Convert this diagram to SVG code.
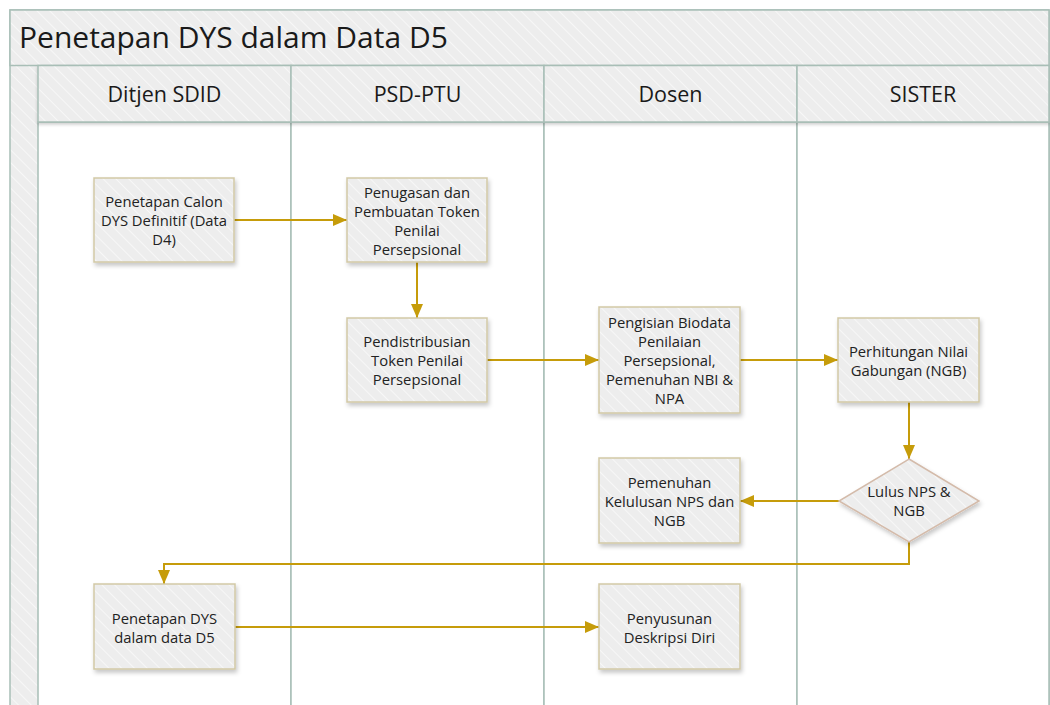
<svg xmlns="http://www.w3.org/2000/svg" width="1050" height="705" viewBox="0 0 1050 705">
<style>
.band{fill:url(#hatch);stroke:#A8BEB6;stroke-width:1.5}
.lane{fill:#FFFFFF;stroke:#A8BEB6;stroke-width:1.5}
.box{fill:url(#hatch);stroke:#D2C9A6;stroke-width:1.5;filter:url(#sh)}
.dia{fill:url(#hatch);stroke:#D4BBAA;stroke-width:1.5;filter:url(#sh)}
.t{font-family:"Open Sans","Noto Sans","DejaVu Sans",sans-serif;font-size:14.8px;fill:#222;text-anchor:middle}
.h{font-family:"Open Sans","Noto Sans","DejaVu Sans",sans-serif;font-size:21.5px;fill:#1a1a1a;text-anchor:middle}
.title{font-family:"Open Sans","Noto Sans","DejaVu Sans",sans-serif;font-size:30px;fill:#1a1a1a}
.c{fill:none;stroke:#C69C0A;stroke-width:2}
</style>
<defs>
<pattern id="hatch" patternUnits="userSpaceOnUse" width="9" height="9" patternTransform="rotate(-45)">
<rect width="9" height="9" fill="#EDEDED"/>
<line x1="0" y1="0" x2="0" y2="9" stroke="#F7F7F7" stroke-width="2"/>
</pattern>
<filter id="sh" x="-10%" y="-10%" width="125%" height="130%">
<feDropShadow dx="1.5" dy="3" stdDeviation="2" flood-color="#000" flood-opacity="0.22"/>
</filter>
<filter id="hsh" x="-5%" y="-10%" width="110%" height="140%">
<feDropShadow dx="0" dy="2" stdDeviation="1.5" flood-color="#000" flood-opacity="0.18"/>
</filter>
<marker id="ar" viewBox="0 0 14 12" refX="14" refY="6" markerWidth="14" markerHeight="12" markerUnits="userSpaceOnUse" orient="auto">
<path d="M0,0 L14,6 L0,12 Z" fill="#C69C0A"/>
</marker>
</defs>

<g id="pool">
<rect x="10" y="10" width="1039" height="720" class="band"/>
<rect x="10" y="10" width="1039" height="55.5" class="band"/>
<text x="19" y="48" class="title">Penetapan DYS dalam Data D5</text>
</g>

<g id="lanes">
<rect x="38" y="122" width="253" height="620" class="lane"/>
<rect x="291" y="122" width="253" height="620" class="lane"/>
<rect x="544" y="122" width="253" height="620" class="lane"/>
<rect x="797" y="122" width="252" height="620" class="lane"/>
<g filter="url(#hsh)">
<rect x="38" y="65.5" width="253" height="56.5" class="band"/>
<rect x="291" y="65.5" width="253" height="56.5" class="band"/>
<rect x="544" y="65.5" width="253" height="56.5" class="band"/>
<rect x="797" y="65.5" width="252" height="56.5" class="band"/>
</g>
<text x="164.5" y="102" class="h">Ditjen SDID</text>
<text x="417.5" y="102" class="h">PSD-PTU</text>
<text x="670.5" y="102" class="h">Dosen</text>
<text x="923" y="102" class="h">SISTER</text>
</g>

<g id="connectors">
<path class="c" d="M234,220 H347" marker-end="url(#ar)"/>
<path class="c" d="M417,262 V318" marker-end="url(#ar)"/>
<path class="c" d="M487,360 H599" marker-end="url(#ar)"/>
<path class="c" d="M740,360 H838" marker-end="url(#ar)"/>
<path class="c" d="M909,402 V459" marker-end="url(#ar)"/>
<path class="c" d="M839,501 H740" marker-end="url(#ar)"/>
<path class="c" d="M909,542 V564 H164 V584" marker-end="url(#ar)"/>
<path class="c" d="M235,627 H599" marker-end="url(#ar)"/>
</g>

<g id="n1">
<rect x="94" y="178" width="140" height="84" class="box"/>
<text class="t" x="164" y="207">Penetapan Calon</text>
<text class="t" x="164" y="226">DYS Definitif (Data</text>
<text class="t" x="164" y="245">D4)</text>
</g>
<g id="n2">
<rect x="347" y="178" width="140" height="84" class="box"/>
<text class="t" x="417" y="198">Penugasan dan</text>
<text class="t" x="417" y="217">Pembuatan Token</text>
<text class="t" x="417" y="236">Penilai</text>
<text class="t" x="417" y="255">Persepsional</text>
</g>
<g id="n3">
<rect x="347" y="318" width="140" height="84" class="box"/>
<text class="t" x="417" y="347">Pendistribusian</text>
<text class="t" x="417" y="366">Token Penilai</text>
<text class="t" x="417" y="385">Persepsional</text>
</g>
<g id="n4">
<rect x="599" y="307" width="141" height="106" class="box"/>
<text class="t" x="669.5" y="328">Pengisian Biodata</text>
<text class="t" x="669.5" y="347">Penilaian</text>
<text class="t" x="669.5" y="366">Persepsional,</text>
<text class="t" x="669.5" y="385">Pemenuhan NBI &amp;</text>
<text class="t" x="669.5" y="404">NPA</text>
</g>
<g id="n5">
<rect x="838" y="318" width="141" height="84" class="box"/>
<text class="t" x="908.5" y="357">Perhitungan Nilai</text>
<text class="t" x="908.5" y="376">Gabungan (NGB)</text>
</g>
<g id="n6">
<polygon points="909,459 979,501 909,542 839,501" class="dia"/>
<text class="t" x="909" y="497">Lulus NPS &amp;</text>
<text class="t" x="909" y="516">NGB</text>
</g>
<g id="n7">
<rect x="599" y="458" width="141" height="85" class="box"/>
<text class="t" x="669.5" y="488">Pemenuhan</text>
<text class="t" x="669.5" y="507">Kelulusan NPS dan</text>
<text class="t" x="669.5" y="526">NGB</text>
</g>
<g id="n8">
<rect x="94" y="584" width="141" height="85" class="box"/>
<text class="t" x="164.5" y="624">Penetapan DYS</text>
<text class="t" x="164.5" y="643">dalam data D5</text>
</g>
<g id="n9">
<rect x="599" y="584" width="141" height="85" class="box"/>
<text class="t" x="669.5" y="624">Penyusunan</text>
<text class="t" x="669.5" y="643">Deskripsi Diri</text>
</g>
</svg>
